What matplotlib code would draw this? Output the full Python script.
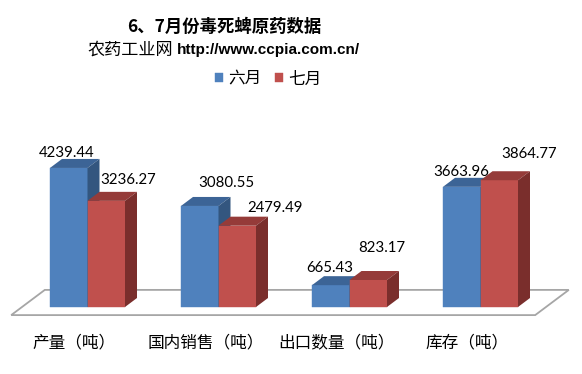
import numpy as np
import matplotlib.pyplot as plt
from matplotlib.patches import Polygon

plt.rcParams['font.family'] = ['Noto Sans CJK SC', 'DejaVu Sans']

categories = ['产量（吨）', '国内销售（吨）', '出口数量（吨）', '库存（吨）']
series_names = ['六月', '七月']
june = [4239.44, 3080.55, 665.43, 3663.96]
july = [3236.27, 2479.49, 823.17, 3864.77]

# value label offsets (pixels) from the top-front centre of each bar
june_lbl_off = [(-2, 15), (27, 23), (-1, 17), (-1, 15)]
july_lbl_off = [(22, 21), (38, 18), (14, 32), (30, 26)]

front_c = ['#4F81BD', '#C0504D']
top_c = ['#3C6496', '#953B39']
side_c = ['#33567F', '#7A2E2C']

W, H = 582, 374
fig = plt.figure(figsize=(W / 100, H / 100), dpi=100)
ax = fig.add_axes([0, 0, 1, 1])

# layout in pixels: category step, px per ton, first centre, zero line (from top)
step_px, val_px, x0_px, zero_px = 131, 0.0328, 87.5, 307
ax.set_xlim(-x0_px / step_px, (W - x0_px) / step_px)
ax.set_ylim(-(H - zero_px) / val_px, zero_px / val_px)
ax.axis('off')

ddx = 12 / step_px      # box depth, x
ddy = 9 / val_px        # box depth, y
bw = 37.5 / step_px     # bar width

x = np.arange(len(categories))

# ---------------floor--------------- #
lo, hi = x[0] - 0.5, x[-1] + 0.5
floor = [(lo - 0.9 * ddx, -0.9 * ddy), (hi - 0.9 * ddx, -0.9 * ddy),
         (hi + 1.9 * ddx, 1.9 * ddy), (lo + 1.9 * ddx, 1.9 * ddy)]
ax.add_patch(Polygon(floor, closed=True, facecolor='white',
                     edgecolor='#A6A6A6', lw=1.3, zorder=1))

# ---------------3d bars--------------- #
handles = []
for k, (vals, offs) in enumerate([(june, june_lbl_off), (july, july_lbl_off)]):
    xc = x + (k - 0.5) * bw
    bars = ax.bar(xc, vals, bw, color=front_c[k], zorder=3 + k,
                  edgecolor=front_c[k], lw=0.3, label=series_names[k])
    handles.append(bars)
    for xi, h, off in zip(xc, vals, offs):
        xl, xr = xi - bw / 2, xi + bw / 2
        ax.add_patch(Polygon([(xl, h), (xr, h), (xr + ddx, h + ddy),
                              (xl + ddx, h + ddy)], closed=True,
                             facecolor=top_c[k], lw=0, zorder=3.1 + k))
        ax.add_patch(Polygon([(xr, 0), (xr + ddx, ddy), (xr + ddx, h + ddy),
                              (xr, h)], closed=True,
                             facecolor=side_c[k], lw=0, zorder=3.2 + k))
        ax.annotate('{:.2f}'.format(h), (xi, h), xytext=off,
                    textcoords='offset pixels', ha='center', va='center',
                    family=['Lato', 'DejaVu Sans'], fontsize=10.8, zorder=10)

for xi, cat in zip(x, categories):
    ax.annotate(cat, (xi, 0), xytext=(-13, -36), textcoords='offset pixels',
                ha='center', va='center', fontsize=12)

# ---------------title & legend--------------- #
fig.text(224 / W, 1 - 27 / H, '6、7月份毒死蜱原药数据', ha='center',
         va='center', fontsize=12.5, fontweight='bold')
fig.text(173 / W, 1 - 50 / H, '农药工业网', ha='right', va='center',
         fontsize=12.3)
fig.text(177 / W, 1 - 50 / H, 'http://www.ccpia.com.cn/', ha='left',
         va='center', fontsize=11, fontweight='bold',
         family=['Liberation Sans', 'DejaVu Sans'])
fig.legend(handles=handles, labels=series_names, loc='center',
           bbox_to_anchor=(268 / W, 1 - 79 / H), ncol=2, frameon=False,
           fontsize=12, handlelength=0.5, handleheight=0.5,
           handletextpad=0.3, columnspacing=0.8)

fig.savefig('out.png', dpi=100)
